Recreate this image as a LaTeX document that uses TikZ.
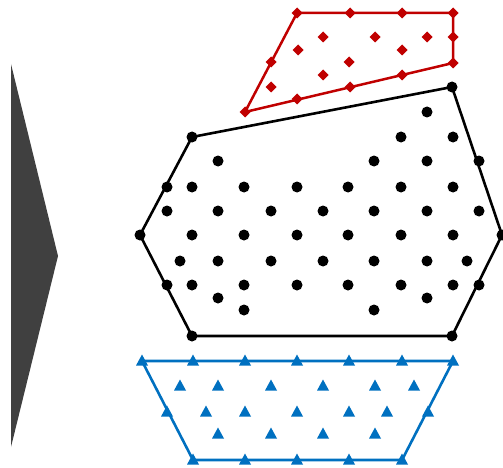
\documentclass[tikz,border=0pt]{standalone}
\usepackage{tikz}
\usepackage{xcolor}
\definecolor{latred}{RGB}{192,0,0}
\definecolor{latblue}{RGB}{0,112,192}
\definecolor{arrowgray}{RGB}{64,64,64}

\begin{document}
\begin{tikzpicture}[x=1pt, y=-1pt]
    \useasboundingbox (0,0) rectangle (503,468);

    % arrow on the left
    \fill[arrowgray] (11,64) -- (58,256) -- (11,447) -- cycle;

    % red polytope
    \draw[latred, line width=2.5pt, line join=round] (297,13) -- (453,13) -- (453,63) -- (245,112) -- cycle;
    \foreach \x/\y in {297/13, 350/13, 402/13, 453/13, 453/37, 453/63, 271/62, 245/112,
                       297/99, 350/87, 402/75, 323/37, 375/37, 427/37, 298/50, 402/50,
                       349/62, 323/75, 271/87}
        \fill[latred] (\x,\y) +(0,-5.5) -- +(5.5,0) -- +(0,5.5) -- +(-5.5,0) -- cycle;

    % black polytope
    \draw[black, line width=2.6pt, line join=round] (192,137) -- (452,87) -- (502,235) -- (452,336) -- (192,336) -- (140,235) -- cycle;
    \foreach \x/\y in {452/87, 427/112, 192/137, 401/137, 453/137,
                       218/161, 374/161, 427/161, 479/161,
                       167/187, 192/187, 244/187, 297/187, 348/187, 401/187, 453/187,
                       167/211, 218/211, 271/211, 323/211, 374/211, 427/211, 479/211,
                       140/235, 192/235, 244/235, 297/235, 348/235, 401/235, 453/235, 502/235,
                       180/261, 218/261, 271/261, 323/261, 374/261, 427/261, 467/261,
                       167/285, 192/285, 244/285, 297/285, 348/285, 401/285, 453/285, 479/285,
                       218/298, 427/298, 244/310, 374/310, 192/336, 452/336}
        \fill (\x,\y) circle (5.5pt);

    % blue polytope
    \draw[latblue, line width=2.6pt, line join=round] (142,361) -- (453,361) -- (402,460) -- (193,460) -- cycle;
    \foreach \x/\y in {142/361, 193/361, 245/361, 297/361, 349/361, 402/361, 453/361,
                       180/386, 218/386, 271/386, 323/386, 375/386, 414/386,
                       167/412, 206/412, 245/412, 297/412, 349/412, 387/412, 428/412,
                       218/434, 271/434, 323/434, 375/434,
                       193/460, 245/460, 297/460, 349/460, 402/460}
        \fill[latblue] (\x,\y) +(0,-6.5) -- +(6,4.5) -- +(-6,4.5) -- cycle;
\end{tikzpicture}
\end{document}
